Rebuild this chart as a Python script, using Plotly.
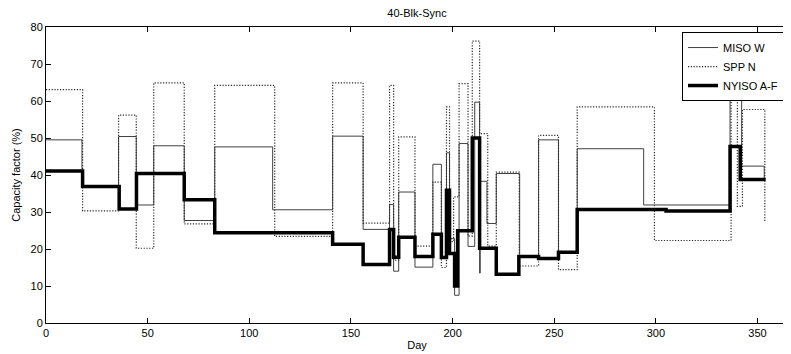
import plotly.graph_objects as go

# Step-series data (day at which each level starts, level in %)
miso_days = [0, 17.7, 35.7, 44.4, 53, 68, 83, 111.5, 141, 156, 169, 171, 173.5, 181.5,
             190.3, 194.5, 197, 198.5, 201, 203.2, 207.6, 210.9, 213.3, 213.6, 216.9,
             221.5, 233, 242.3, 252.1, 261.3, 294, 336.5, 342.2, 353.3]
miso_vals = [49.5, 37.0, 50.4, 31.9, 47.9, 27.7, 47.6, 30.6, 50.5, 25.3, 32.0, 14.0, 35.4, 15.1,
             42.9, 18.0, 46.0, 22.8, 7.5, 48.5, 20.7, 59.7, 13.5, 38.3, 26.9,
             40.4, 17.7, 49.5, 19.1, 47.1, 31.9, 62.0, 42.4, 38.6]

spp_days = [0, 18, 35.7, 44.4, 53, 68, 83, 112.5, 141, 156, 169, 171, 173.5, 181.5,
            190.3, 194.5, 197, 198.5, 200.5, 203.2, 207.6, 209.7, 213.3, 217.3,
            221.5, 232.8, 242.3, 252.1, 261.3, 299.3, 337, 340.1, 342.6, 353.6]
spp_vals = [63.1, 30.3, 56.2, 20.2, 64.9, 26.8, 64.2, 23.4, 64.9, 27.0, 64.2, 17.0, 50.3, 20.8,
            38.1, 15.0, 58.4, 22.0, 34.1, 64.7, 23.5, 76.2, 51.2, 20.8,
            40.8, 15.4, 50.7, 14.4, 58.4, 22.3, 63.2, 31.5, 57.7, 27.3]

nyiso_days = [0, 18, 36, 44.5, 68, 83, 141, 156, 169, 171, 173.5, 181.5, 190.3, 194.5,
              197, 198.5, 201, 202.5, 209.7, 213.3, 221.5, 232.6, 242.3, 252.1, 261.3,
              305, 336.5, 341.5, 354]
nyiso_vals = [41.1, 36.9, 30.8, 40.4, 33.3, 24.4, 21.3, 15.8, 25.3, 17.8, 23.2, 18.0, 24.0, 17.7,
              35.9, 18.8, 10.0, 24.9, 50.0, 20.2, 13.2, 18.0, 17.4, 19.1, 30.7,
              30.3, 47.7, 38.8, 38.8]

x_ticks = [0, 50, 100, 150, 200, 250, 300, 350]
y_ticks = [0, 10, 20, 30, 40, 50, 60, 70, 80]

FONT = "Liberation Sans, Arial, sans-serif"

# page body has an 8px default margin, so the figure is sized to fit what is left
W, H = 783, 346

fig = go.Figure()
fig.add_trace(go.Scatter(x=miso_days, y=miso_vals, mode="lines", name="MISO W",
                         line=dict(shape="hv", color="#404040", width=1)))
fig.add_trace(go.Scatter(x=spp_days, y=spp_vals, mode="lines", name="SPP N",
                         line=dict(shape="hv", color="#2a2a2a", width=1.2, dash="1.2px,1.6px")))
fig.add_trace(go.Scatter(x=nyiso_days, y=nyiso_vals, mode="lines", name="NYISO A-F",
                         line=dict(shape="hv", color="black", width=3.5)))

axis_common = dict(showgrid=False, zeroline=False, showline=True, linecolor="black",
                   linewidth=1, mirror="allticks", ticks="inside", ticklen=5,
                   tickcolor="black", automargin=False,
                   tickfont=dict(family=FONT, size=11, color="black"))

fig.update_layout(
    width=W, height=H,
    margin=dict(l=38, r=3, t=19, b=31, autoexpand=False),
    plot_bgcolor="white", paper_bgcolor="white",
    font=dict(family=FONT, size=11, color="black"),
    title=dict(text="40-Blk-Sync", x=0.5, xref="paper", xanchor="center",
               y=1 - 5.5 / H, yref="container", yanchor="middle",
               font=dict(family=FONT, size=11, color="black")),
    xaxis=dict(range=[0, 365], tickvals=x_ticks,
               title=dict(text="Day", standoff=3, font=dict(family=FONT, size=11)),
               **axis_common),
    yaxis=dict(range=[0, 80], tickvals=y_ticks,
               title=dict(text="Capacity factor (%)", standoff=7, font=dict(family=FONT, size=11)),
               **axis_common),
    legend=dict(x=0.9946, y=0.983, xanchor="right", yanchor="top",
                bgcolor="white", bordercolor="black", borderwidth=1,
                font=dict(family=FONT, size=11, color="black"),
                tracegroupgap=0),
    showlegend=True,
)

fig.write_html("out.html")
